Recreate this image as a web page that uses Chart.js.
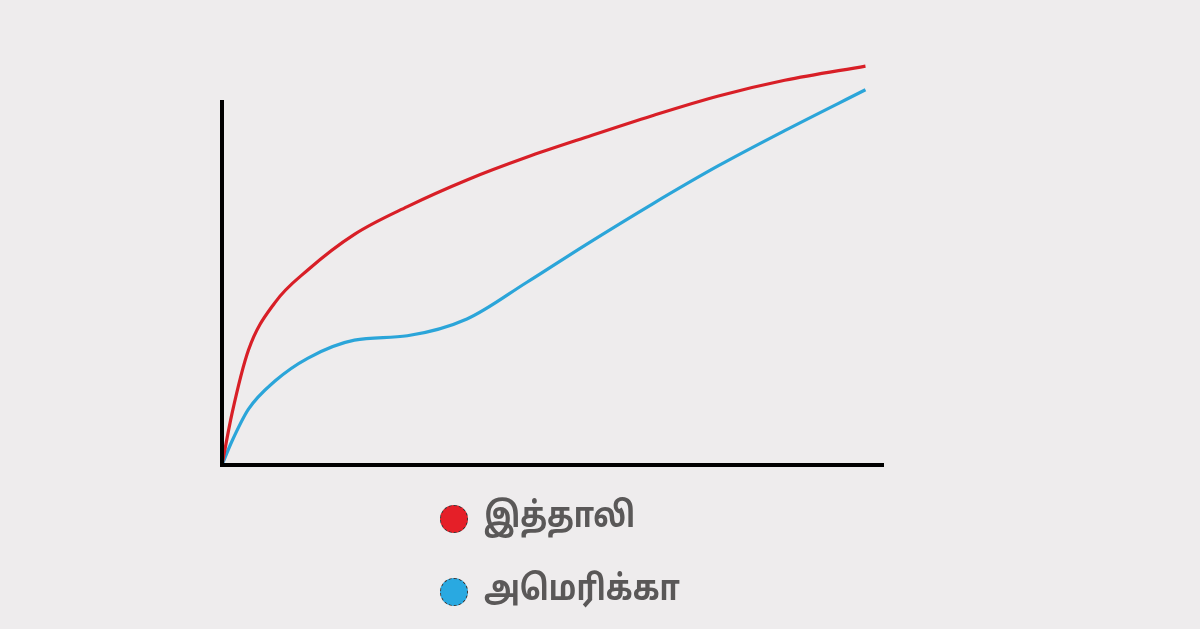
<!DOCTYPE html>
<html>
<head>
<meta charset="utf-8">
<script src="https://cdn.jsdelivr.net/npm/chart.js@4/dist/chart.umd.min.js"></script>
<style>
  html, body { margin: 0; padding: 0; background: #eeeced; }
  #wrap { position: relative; width: 1200px; height: 629px; }
  canvas { position: absolute; left: 0; top: 0; }
  .legend-item { position: absolute; left: 440px; display: flex; align-items: center; }
  .legend-item .txt { font-family: "Noto Sans Tamil", "Noto Sans", sans-serif; font-weight: bold; font-size: 35px; color: #5a5858; display: inline-block; transform: scaleX(0.84); transform-origin: left center; }
  .dot { width: 28px; height: 28px; border-radius: 50%; border: 1px dashed #333; margin-right: 16px; box-sizing: border-box; }
</style>
</head>
<body>
<div id="wrap">
  <canvas id="chart" width="1200" height="629"></canvas>
  <div class="legend-item" style="top:497px"><span class="dot" style="background:#e51f28"></span><span class="txt">இத்தாலி</span></div>
  <div class="legend-item" style="top:570px"><span class="dot" style="background:#29a9e1"></span><span class="txt">அமெரிக்கா</span></div>
</div>
<script>
// sample positions along the x axis (0..100 = axis length)
const xVals = [0, 1.5, 4, 8, 13, 20, 28, 37, 46, 55, 65, 75, 85, 97.2];
// Italy (red)
const italyVals = [0, 14, 31.5, 44.5, 53.5, 63.2, 70.8, 78.1, 84.3, 89.8, 95.7, 101.1, 105.4, 109.3];
// America (blue)
const americaVals = [0, 6.5, 15.3, 23, 29.3, 34.2, 35.4, 40, 50, 60.4, 71.5, 82, 91.6, 102.8];

const toPoints = ys => xVals.map((x, i) => ({ x: x, y: ys[i] }));

// draw the two axis lines along the chart area
const axisLines = {
  id: 'axisLines',
  afterDatasetsDraw(chart) {
    const { ctx, chartArea: a } = chart;
    ctx.save();
    ctx.strokeStyle = '#000';
    ctx.lineWidth = 4;
    ctx.beginPath();
    ctx.moveTo(a.left, a.top);
    ctx.lineTo(a.left, a.bottom);
    ctx.lineTo(a.right, a.bottom);
    ctx.stroke();
    ctx.restore();
  }
};

new Chart(document.getElementById('chart').getContext('2d'), {
  type: 'line',
  data: {
    datasets: [
      {
        label: 'இத்தாலி',
        data: toPoints(italyVals),
        borderColor: '#d81f27',
        borderWidth: 3.2,
        pointRadius: 0,
        cubicInterpolationMode: 'monotone',
        clip: false,
      },
      {
        label: 'அமெரிக்கா',
        data: toPoints(americaVals),
        borderColor: '#2ba5d9',
        borderWidth: 3.2,
        pointRadius: 0,
        cubicInterpolationMode: 'monotone',
        clip: false,
      }
    ]
  },
  options: {
    responsive: false,
    animation: false,
    layout: { padding: { left: 222, right: 316, top: 100, bottom: 164 } },
    plugins: { legend: { display: false }, tooltip: { enabled: false } },
    scales: {
      x: { type: 'linear', min: 0, max: 100, display: false },
      y: { min: 0, max: 100, display: false },
    },
  },
  plugins: [axisLines],
});
</script>
</body>
</html>
